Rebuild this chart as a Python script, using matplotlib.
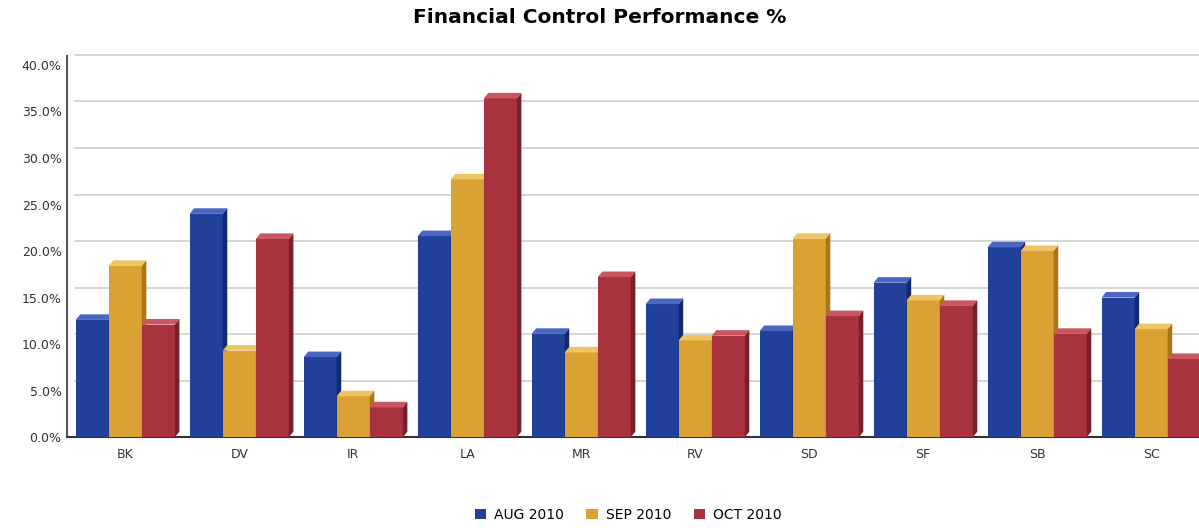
import numpy as np
import matplotlib.pyplot as plt
from matplotlib.patches import Polygon
from matplotlib.transforms import ScaledTranslation
from matplotlib.ticker import FuncFormatter

sites = ['BK', 'DV', 'IR', 'LA', 'MR', 'RV', 'SD', 'SF', 'SB', 'SC']
aug = [12.6, 24.0, 8.6, 21.6, 11.1, 14.3, 11.4, 16.6, 20.4, 15.0]
sep = [18.4, 9.3, 4.4, 27.7, 9.1, 10.4, 21.3, 14.7, 20.0, 11.6]
oct_ = [12.1, 21.3, 3.2, 36.4, 17.2, 10.9, 13.0, 14.1, 11.1, 8.4]
series_names = ['AUG 2010', 'SEP 2010', 'OCT 2010']

# front / top / side colours
colors = ['#21409a', '#d9a232', '#a8333f']
tops = ['#4a66c0', '#efc466', '#c8575f']
sides = ['#142a6e', '#a87818', '#7a1f2a']

fig = plt.figure(figsize=(11.99, 5.28), dpi=100)
ax = fig.add_axes([0.056, 0.172, 0.944, 0.705])

x = np.arange(len(sites))
w = 0.29
dx = 0.04    # depth of 3d look, x units
dy = 0.6     # depth of 3d look, y units

for k, vals in enumerate([aug, sep, oct_]):
    pos = x + (k - 1) * w
    ax.bar(pos, vals, width=w, color=colors[k], label=series_names[k], zorder=3)
    for p, v in zip(pos, vals):
        l, r = p - w / 2, p + w / 2
        ax.add_patch(Polygon([(l, v), (r, v), (r + dx, v + dy), (l + dx, v + dy)],
                             closed=True, facecolor=tops[k], edgecolor='none', zorder=3))
        ax.add_patch(Polygon([(r, 0), (r, v), (r + dx, v + dy), (r + dx, dy)],
                             closed=True, facecolor=sides[k], edgecolor='none', zorder=3))

ax.set_xlim(-0.51, 9.42)
ax.set_ylim(0, 40)
ax.set_yticks(np.arange(0, 41, 5))
ax.yaxis.set_major_formatter(FuncFormatter(lambda v, p: '%.1f%%' % v))
ax.set_xticks(x)
ax.set_xticklabels(sites)
ax.tick_params(axis='both', length=0, labelsize=9, colors='#333333')
ax.tick_params(axis='x', pad=8)
ax.tick_params(axis='y', pad=4)

# gridlines on the back wall
ax.yaxis.grid(True, color='#cfcfcf', linewidth=1.2, zorder=0)
shift = ScaledTranslation(8 / 100, 10 / 100, fig.dpi_scale_trans)
for i, gl in enumerate(ax.get_ygridlines()):
    gl.set_transform(ax.get_yaxis_transform() + shift)
    gl.set_clip_on(False)
    if i == 0:
        gl.set_visible(False)

for s in ['top', 'right']:
    ax.spines[s].set_visible(False)
ax.spines['left'].set_color('#555555')
ax.spines['left'].set_linewidth(1.5)
ax.spines['bottom'].set_color('#333333')
ax.spines['bottom'].set_linewidth(1.5)
ax.spines['left'].set_bounds(0, 41)

fig.suptitle('Financial Control Performance %', fontsize=14.5, fontweight='bold',
             y=0.985, x=0.5)
fig.legend(loc='lower center', bbox_to_anchor=(0.524, -0.012), ncol=3, frameon=False,
           fontsize=10, handlelength=0.8, handleheight=0.8, columnspacing=1.6,
           handletextpad=0.6)

plt.savefig('out.png', dpi=100)
